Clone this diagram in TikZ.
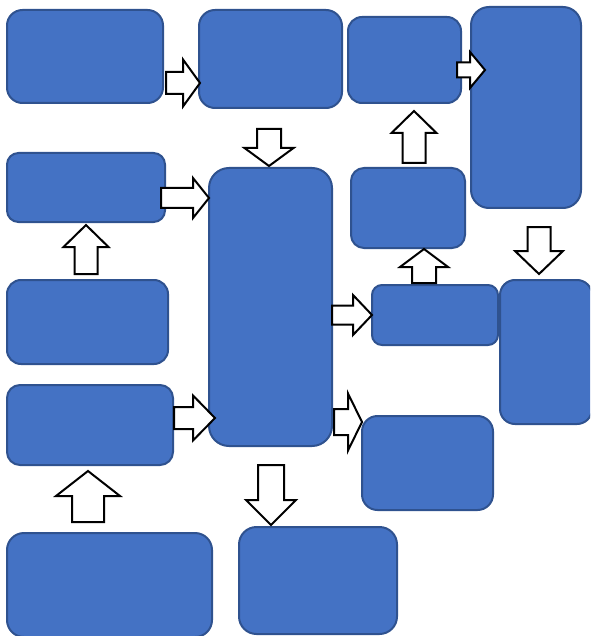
\documentclass[tikz,border=0pt]{standalone}
\definecolor{boxfill}{HTML}{4472C4}
\definecolor{boxline}{HTML}{2F528F}
\tikzset{
  panel/.style={draw=boxline, fill=boxfill, line width=2pt, inner sep=0pt, outer sep=0pt},
  blockarrow/.style={draw=black, fill=white, line width=2pt, line join=miter}
}
% block arrow: #1 direction angle, #2 tip point, #3 total length,
% #4 head length, #5 shaft half width, #6 head half width
\newcommand\blockarrowat[6]{%
  \draw[blockarrow, shift={#2}, rotate=#1]
    (0,0) -- (-#4,#6) -- (-#4,#5) -- (-#3,#5) -- (-#3,-#5)
    -- (-#4,-#5) -- (-#4,-#6) -- cycle;}
\begin{document}
\begin{tikzpicture}[x=1pt,y=-1pt]
\useasboundingbox (0,0) rectangle (590,636);
\clip (0,0) rectangle (590,636);
% panels
\node[panel, minimum width=156pt, minimum height=93pt, rounded corners=15.5pt] (A) at (85,56.5) {};
\node[panel, minimum width=143pt, minimum height=98pt, rounded corners=16pt] (B) at (270.5,59) {};
\node[panel, minimum width=113pt, minimum height=86pt, rounded corners=14pt] (C) at (404.5,60) {};
\node[panel, minimum width=110pt, minimum height=201pt, rounded corners=18pt] (D) at (526,107.5) {};
\node[panel, minimum width=158pt, minimum height=69pt, rounded corners=11.5pt] (E) at (86,187.5) {};
\node[panel, minimum width=123pt, minimum height=278pt, rounded corners=20pt] (F) at (270.5,307) {};
\node[panel, minimum width=114pt, minimum height=80pt, rounded corners=13pt] (G) at (408,208) {};
\node[panel, minimum width=161pt, minimum height=84pt, rounded corners=14pt] (H) at (87.5,322) {};
\node[panel, minimum width=126pt, minimum height=60pt, rounded corners=10pt] (I) at (435,315) {};
\node[panel, minimum width=92pt, minimum height=144pt, rounded corners=15pt] (J) at (546,352) {};
\node[panel, minimum width=166pt, minimum height=80pt, rounded corners=13pt] (K) at (90,425) {};
\node[panel, minimum width=131pt, minimum height=94pt, rounded corners=15.5pt] (L) at (427.5,463) {};
\node[panel, minimum width=205pt, minimum height=104pt, rounded corners=17pt] (M) at (109.5,585) {};
\node[panel, minimum width=158pt, minimum height=107pt, rounded corners=17.5pt] (N) at (318,580.5) {};
% block arrows between panels
\blockarrowat{0}{(200,83)}{34}{17}{11}{23.5}     % A -> B
\blockarrowat{-90}{(269,166)}{37}{18}{12}{24.5}  % B -> F
\blockarrowat{0}{(209,198)}{48}{16}{10}{20}      % E -> F
\blockarrowat{90}{(414,111)}{52}{22}{11.5}{22.5} % G -> C
\blockarrowat{0}{(485,70)}{28}{15}{7.5}{18}      % C -> D
\blockarrowat{90}{(86,225)}{49}{22}{11.5}{22.5}  % H -> E
\blockarrowat{0}{(215,418)}{41}{22}{11}{22.5}    % K -> F
\blockarrowat{0}{(372,315)}{40}{19}{9.5}{20}     % F -> I
\blockarrowat{90}{(424,249)}{34}{18}{12}{24}     % I -> G
\blockarrowat{-90}{(539,274)}{47}{23}{11.5}{24}  % D -> J
\blockarrowat{0}{(362,422)}{28}{14}{13}{28.5}    % F -> L
\blockarrowat{90}{(88,471)}{51}{25}{16}{32}      % M -> K
\blockarrowat{-90}{(271,525)}{60}{25}{13}{25}    % F -> N
\end{tikzpicture}
\end{document}
